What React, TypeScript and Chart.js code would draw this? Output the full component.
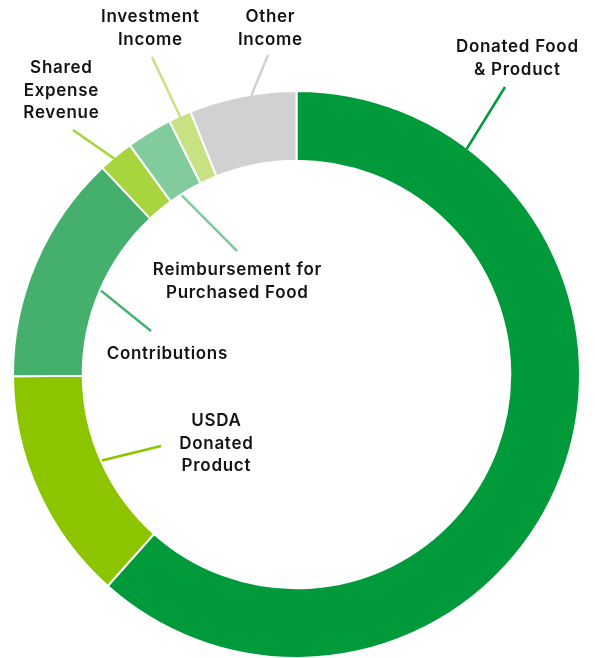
import React, { useEffect, useRef } from "react";
import { Chart, registerables } from "chart.js";

Chart.register(...registerables);

// ---- data ----
const categories = [
  "Donated Food & Product",
  "USDA Donated Product",
  "Contributions",
  "Shared Expense Revenue",
  "Reimbursement for Purchased Food",
  "Investment Income",
  "Other Income",
];
const shares = [61.6, 13.3, 13.1, 2.0, 2.6, 1.3, 6.1];
const colors = ["#009a3b", "#8cc400", "#45b06d", "#a8d43e", "#81cb9c", "#c6e283", "#d1d1d1"];
const labelLines = [
  ["Donated Food", "& Product"],
  ["USDA", "Donated", "Product"],
  ["Contributions"],
  ["Shared", "Expense", "Revenue"],
  ["Reimbursement for", "Purchased Food"],
  ["Investment", "Income"],
  ["Other", "Income"],
];

// ---- label layout (annotation placement) ----
const anchorFrac = [0.167, 0.51, 0.5, 0.42, 0.36, 0.5, 0.58];
const anchorEdge = ["outer", "inner", "inner", "outer", "inner", "outer", "outer"];
const lineEnds = [
  [505, 87],
  [161, 446],
  [151, 331],
  [73, 130],
  [237, 251],
  [152, 57],
  [268, 55],
];
const textPos = [
  [517, 47],
  [216, 421],
  [167, 354],
  [61, 68],
  [237, 270],
  [150, 17],
  [270, 17],
];
const lineHeight = 22.5;

const labelPlugin = {
  id: "leaderLabels",
  afterDatasetsDraw(chart: any) {
    const ctx = chart.ctx;
    const meta = chart.getDatasetMeta(0);
    ctx.save();
    meta.data.forEach((arc: any, i: number) => {
      const p = arc.getProps(["x", "y", "startAngle", "endAngle", "innerRadius", "outerRadius"], true);
      const a = p.startAngle + (p.endAngle - p.startAngle) * anchorFrac[i];
      const r = anchorEdge[i] === "outer" ? p.outerRadius - 1 : p.innerRadius - 1;
      const sx = p.x + Math.cos(a) * r;
      const sy = p.y + Math.sin(a) * r;
      ctx.beginPath();
      ctx.moveTo(sx, sy);
      ctx.lineTo(lineEnds[i][0], lineEnds[i][1]);
      ctx.strokeStyle = colors[i];
      ctx.lineWidth = 2.5;
      ctx.stroke();

      ctx.fillStyle = "#141414";
      ctx.font = "600 17px Inter, 'Open Sans', sans-serif";
      (ctx as any).letterSpacing = "0.7px";
      ctx.textAlign = "center";
      ctx.textBaseline = "middle";
      labelLines[i].forEach((t, k) => {
        ctx.fillText(t, textPos[i][0] + 0.35, textPos[i][1] + k * lineHeight);
      });
    });
    ctx.restore();
  },
};

export default function App() {
  const ref = useRef<HTMLCanvasElement | null>(null);
  useEffect(() => {
    if (!ref.current) return;
    const chart = new Chart(ref.current, {
      type: "doughnut",
      data: {
        labels: categories,
        datasets: [
          {
            data: shares,
            backgroundColor: colors,
            borderColor: "#ffffff",
            borderWidth: 2,
            hoverOffset: 0,
          },
        ],
      },
      options: {
        responsive: false,
        animation: false,
        events: [],
        radius: 283.5,
        cutout: 213,
        layout: { padding: { left: 13, right: 15, top: 91, bottom: 0 } },
        plugins: { legend: { display: false }, tooltip: { enabled: false } },
      } as any,
      plugins: [labelPlugin],
    });
    return () => chart.destroy();
  }, []);
  return (
    <div style={{ position: "absolute", left: 0, top: 0, width: 595, height: 658, background: "#fff" }}>
      <canvas ref={ref} width={595} height={658} style={{ width: 595, height: 658, display: "block" }} />
    </div>
  );
}
